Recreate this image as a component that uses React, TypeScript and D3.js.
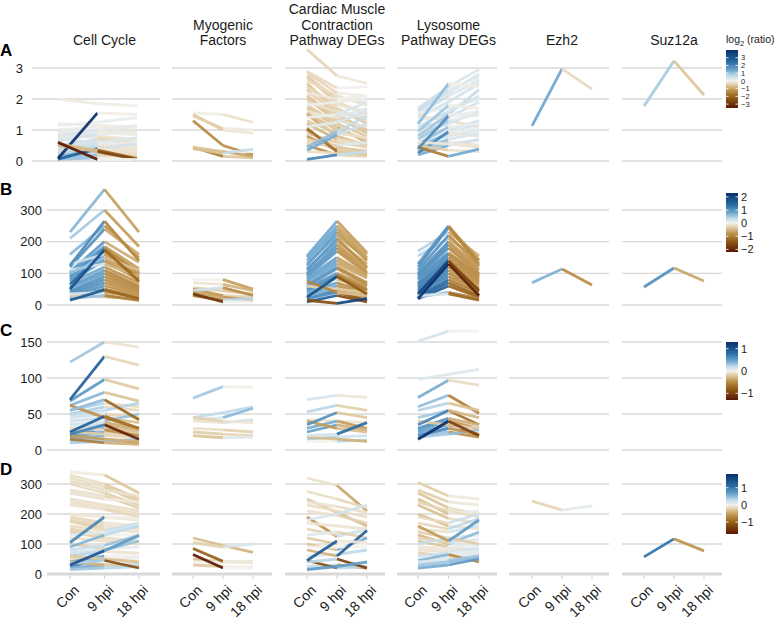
import React from 'react';
import * as d3 from 'd3';

// x categories and facet titles
const timepoints = ['Con', '9 hpi', '18 hpi'];
const facetTitles = [
  ['Cell Cycle'],
  ['Myogenic', 'Factors'],
  ['Cardiac Muscle', 'Contraction', 'Pathway DEGs'],
  ['Lysosome', 'Pathway DEGs'],
  ['Ezh2'],
  ['Suz12a'],
];

// ---- Row A (relative expression) : [Con, 9 hpi, 18 hpi]
const cellCycleA = [
  [2.0, 1.85, 1.78], [1.2, 1.15, 1.1], [1.15, 1.25, 1.4], [1.0, 1.1, 1.05], [0.95, 0.8, 0.7],
  [0.9, 1.0, 0.9], [0.85, 0.75, 0.6], [0.8, 1.0, 1.15], [0.75, 0.9, 0.85], [0.7, 0.6, 0.5],
  [0.65, 0.85, 0.95], [0.5, 0.7, 0.55], [0.45, 0.6, 0.75], [0.4, 0.55, 0.6], [0.35, 0.5, 0.45],
  [0.3, 0.45, 0.35], [0.3, 0.25, 0.2], [0.25, 0.4, 0.55], [0.2, 0.3, 0.25], [0.2, 0.15, 0.1],
  [0.15, 0.35, 0.3], [0.1, 0.2, 0.15], [0.05, 0.1, 0.1], [0.06, 0.4, 0.35], [0.08, 1.55, 1.5],
  [0.55, 0.35, 0.08], [0.5, 0.3, 0.05], [0.6, 0.05, 0.05],
];
const myogenicA = [
  [1.55, 1.5, 1.25], [1.5, 1.0, 0.9], [1.45, 1.05, 1.0], [1.3, 0.5, 0.2],
  [0.45, 0.15, 0.1], [0.4, 0.3, 0.3], [0.45, 0.3, 0.15], [0.4, 0.25, 0.38],
];
const cardiacA = [
  [3.6, 2.75, 2.5], [2.9, 2.35, 2.4], [2.85, 2.2, 2.1], [2.75, 2.0, 1.9], [2.7, 1.9, 1.5],
  [2.6, 2.1, 1.8], [2.5, 1.6, 1.3], [2.4, 1.8, 1.6], [2.3, 1.5, 1.0], [2.2, 1.7, 1.2],
  [2.1, 1.4, 0.9], [2.0, 1.3, 1.1], [1.9, 1.6, 1.4], [1.8, 1.2, 0.8], [1.7, 1.1, 0.6],
  [1.6, 1.4, 1.7], [1.55, 1.0, 0.7], [1.5, 0.8, 0.5], [1.4, 1.5, 1.9], [1.3, 0.9, 0.75],
  [1.2, 0.7, 0.55], [1.1, 1.25, 1.6], [1.0, 0.4, 0.35], [0.9, 0.6, 0.45], [0.8, 0.35, 0.25],
  [0.7, 0.5, 0.6], [0.6, 0.45, 0.3], [0.5, 0.2, 0.15], [0.3, 0.25, 0.2], [2.2, 2.0, 2.1],
  [1.8, 1.9, 2.0], [1.05, 0.3, 0.2], [0.35, 0.85, 1.2], [0.45, 0.95, 1.45], [0.05, 0.2, 0.3],
];
const lysosomeA = [
  [1.7, 2.4, 2.95], [1.65, 2.2, 2.8], [1.6, 2.3, 2.7], [1.5, 2.1, 2.6], [1.4, 1.9, 2.5],
  [1.3, 1.5, 2.3], [1.55, 1.7, 2.0], [1.45, 1.3, 1.1], [1.2, 2.5, 2.4], [1.1, 1.6, 2.1],
  [1.0, 1.4, 1.9], [0.95, 1.8, 1.7], [0.9, 1.2, 1.6], [0.85, 1.0, 1.3], [0.8, 1.5, 1.45],
  [0.75, 0.9, 1.2], [0.7, 1.3, 1.5], [0.65, 0.6, 0.5], [0.6, 0.8, 1.0], [0.55, 1.1, 1.2],
  [0.5, 0.55, 0.45], [0.45, 0.9, 0.8], [0.35, 0.7, 0.9], [0.3, 0.6, 0.65], [0.25, 0.95, 1.05],
  [0.2, 0.5, 0.7], [0.5, 0.35, 0.3], [0.6, 0.55, 0.5], [0.45, 0.15, 0.38], [0.4, 1.45, 1.6],
];
const ezh2A = [[1.13, 2.97, 2.32]];
const suz12aA = [[1.77, 3.23, 2.13]];

// ---- Row B
const cellCycleB = [
  [230, 365, 230], [210, 300, 185], [160, 250, 150], [120, 240, 160], [105, 200, 135],
  [100, 185, 115], [95, 175, 105], [90, 180, 100], [85, 160, 95], [80, 150, 90],
  [75, 140, 80], [70, 120, 70], [65, 170, 85], [60, 110, 60], [55, 100, 55],
  [45, 90, 50], [40, 80, 45], [35, 70, 40], [30, 60, 35], [25, 50, 30],
  [20, 45, 25], [30, 25, 20], [20, 30, 15], [35, 40, 25], [130, 160, 100],
  [110, 130, 90], [100, 150, 110], [125, 265, 140], [50, 175, 75], [15, 48, 20],
];
const myogenicB = [
  [80, 80, 50], [70, 65, 45], [55, 45, 35], [50, 30, 25],
  [45, 55, 30], [40, 25, 15], [30, 15, 20], [35, 10, 10],
];
const cardiacB = [
  [155, 265, 165], [150, 250, 160], [140, 240, 150], [130, 220, 145], [125, 230, 140],
  [115, 200, 130], [110, 210, 120], [100, 190, 115], [95, 180, 105], [90, 170, 100],
  [85, 150, 95], [80, 140, 90], [75, 130, 85], [70, 80, 60], [65, 120, 70],
  [60, 115, 65], [55, 100, 60], [50, 95, 50], [45, 90, 45], [40, 70, 40],
  [35, 60, 35], [30, 50, 30], [20, 45, 25], [20, 40, 15], [10, 30, 10],
  [60, 50, 40], [75, 40, 30], [15, 5, 20], [25, 90, 35],
];
const lysosomeB = [
  [170, 230, 155], [155, 210, 145], [130, 250, 140], [120, 245, 130], [110, 220, 125],
  [100, 200, 120], [95, 190, 110], [90, 180, 100], [85, 165, 95], [80, 160, 90],
  [70, 150, 85], [65, 140, 80], [60, 130, 75], [55, 120, 70], [50, 110, 65],
  [45, 100, 55], [40, 90, 50], [30, 80, 40], [25, 70, 30], [20, 60, 25],
  [25, 40, 20], [30, 35, 15], [35, 140, 45], [20, 130, 30],
];
const ezh2B = [[70, 114, 63]];
const suz12aB = [[57, 117, 76]];

// ---- Row C
const cellCycleC = [
  [122, 150, 143], [68, 98, 85], [62, 80, 68], [55, 65, 60], [50, 60, 55],
  [48, 55, 65], [45, 50, 45], [40, 45, 38], [38, 40, 50], [35, 38, 30],
  [30, 35, 28], [20, 30, 25], [18, 25, 22], [15, 20, 18], [12, 15, 10],
  [10, 12, 15], [15, 10, 8], [20, 15, 12], [25, 22, 20], [30, 28, 20],
  [62, 45, 30], [55, 70, 42], [25, 47, 30], [22, 35, 15], [70, 130, 118],
];
const myogenicC = [
  [72, 88, 87], [45, 52, 60], [42, 45, 58], [40, 38, 42],
  [30, 28, 25], [25, 22, 20], [20, 17, 18], [45, 40, 38],
];
const cardiacC = [
  [70, 76, 73], [53, 62, 55], [42, 40, 38], [30, 40, 30], [25, 35, 28],
  [15, 18, 20], [12, 12, 14], [40, 30, 25], [35, 52, 45], [18, 15, 12], [20, 22, 38],
];
const lysosomeC = [
  [151, 165, 165], [98, 105, 112], [73, 97, 90], [60, 76, 51], [55, 65, 55],
  [45, 55, 35], [30, 44, 35], [28, 40, 30], [25, 35, 20], [22, 30, 32],
  [20, 25, 18], [18, 22, 28], [40, 35, 30], [20, 30, 22], [15, 40, 20], [35, 55, 45],
];
const ezh2C: number[][] = [];
const suz12aC: number[][] = [];

// ---- Row D
const cellCycleD = [
  [340, 330, 270], [330, 300, 250], [320, 290, 240], [310, 280, 260], [300, 270, 230],
  [280, 260, 220], [270, 250, 240], [250, 230, 210], [240, 220, 200], [230, 215, 190],
  [200, 190, 180], [190, 170, 160], [180, 160, 150], [175, 150, 140], [160, 145, 170],
  [150, 130, 130], [140, 120, 110], [130, 140, 160], [120, 110, 100], [100, 85, 90],
  [90, 130, 160], [80, 95, 130], [70, 80, 110], [60, 75, 70], [50, 45, 55],
  [40, 60, 60], [25, 50, 50], [20, 30, 35], [40, 30, 25], [60, 50, 40],
  [15, 20, 25], [105, 190, 185], [35, 45, 20], [30, 78, 128],
];
const myogenicD = [
  [120, 95, 72], [105, 90, 100], [50, 40, 38], [40, 40, 42],
  [30, 25, 25], [85, 42, 40], [65, 20, 20],
];
const cardiacD = [
  [320, 295, 210], [275, 250, 220], [250, 205, 160], [240, 225, 205], [230, 210, 190],
  [210, 195, 170], [190, 125, 150], [180, 200, 230], [170, 160, 150], [150, 130, 145],
  [130, 140, 120], [120, 100, 100], [100, 80, 120], [90, 90, 90], [60, 65, 80],
  [25, 30, 20], [80, 60, 145], [45, 20, 25], [40, 50, 20], [15, 25, 40], [45, 110, 105],
];
const lysosomeD = [
  [305, 260, 250], [280, 240, 230], [270, 220, 200], [250, 200, 210], [240, 210, 190],
  [230, 185, 170], [200, 160, 150], [190, 170, 200], [170, 150, 185], [150, 140, 160],
  [140, 120, 130], [130, 100, 140], [120, 105, 115], [110, 90, 95], [100, 120, 100],
  [90, 85, 80], [80, 75, 85], [70, 60, 65], [60, 70, 75], [50, 55, 50],
  [45, 65, 40], [40, 45, 60], [30, 40, 55], [160, 110, 180], [20, 30, 50],
];
const ezh2D = [[243, 213, 227]];
const suz12aD = [[57, 117, 77]];

// y ticks and colour-bar limits per row
const yTicksA = [0, 1, 2, 3];
const yTicksB = [0, 100, 200, 300];
const yTicksC = [0, 50, 100, 150];
const yTicksD = [0, 100, 200, 300];
const colorLimitsA = [-3.5, 4];
const colorLimitsB = [-2.2, 2.3];
const colorLimitsC = [-1.3, 1.3];
const colorLimitsD = [-1.7, 1.8];
const legendTicksA = [3, 2, 1, 0, -1, -2, -3];
const legendTicksB = [2, 1, 0, -1, -2];
const legendTicksC = [1, 0, -1];
const legendTicksD = [1, 0, -1];

// brown -> white -> blue, stretched so moderate ratios are already saturated
const paletteStops = [0, 0.2, 0.33, 0.42, 0.5, 0.58, 0.67, 0.8, 1];
const paletteColors = ['#5a1804', '#955f17', '#c09550', '#dfc9a0', '#f3f1ec',
  '#c2dbea', '#6fa7cf', '#2a6ea6', '#0a2f6b'];
const paletteScale = d3.scaleLinear<string>().domain(paletteStops).range(paletteColors)
  .interpolate(d3.interpolateRgb).clamp(true);

const FONT = '"Liberation Sans", Arial, Helvetica, sans-serif';

// panel layout: gridline extent and Con/18 hpi x positions
const panelX = [
  { l: 47, r: 160, a: 70, b: 139 },
  { l: 172, r: 272, a: 193, b: 253 },
  { l: 285, r: 385, a: 307, b: 367 },
  { l: 397, r: 497, a: 418, b: 479 },
  { l: 509, r: 609, a: 532, b: 592 },
  { l: 622, r: 722, a: 644, b: 704 },
];
const panelXRowA0 = { l: 32, r: 160, a: 58, b: 137 };

const rows = [
  { letter: 'A', letterY: 56, panels: [cellCycleA, myogenicA, cardiacA, lysosomeA, ezh2A, suz12aA],
    yTicks: yTicksA, yPix: [161, 68], labelRight: 23, limits: colorLimitsA, legendTicks: legendTicksA,
    bar: [50, 108], legendFont: 7.5 },
  { letter: 'B', letterY: 195, panels: [cellCycleB, myogenicB, cardiacB, lysosomeB, ezh2B, suz12aB],
    yTicks: yTicksB, yPix: [305, 210], labelRight: 42, limits: colorLimitsB, legendTicks: legendTicksB,
    bar: [193, 252], legendFont: 11 },
  { letter: 'C', letterY: 336, panels: [cellCycleC, myogenicC, cardiacC, lysosomeC, ezh2C, suz12aC],
    yTicks: yTicksC, yPix: [450, 342], labelRight: 42, limits: colorLimitsC, legendTicks: legendTicksC,
    bar: [342, 400], legendFont: 11 },
  { letter: 'D', letterY: 475, panels: [cellCycleD, myogenicD, cardiacD, lysosomeD, ezh2D, suz12aD],
    yTicks: yTicksD, yPix: [574, 484], labelRight: 42, limits: colorLimitsD, legendTicks: legendTicksD,
    bar: [474, 534], legendFont: 11 },
];

const Row = ({ row, ri }: any) => {
  const y = d3.scaleLinear().domain([row.yTicks[0], row.yTicks[row.yTicks.length - 1]]).range(row.yPix);
  const color = d3.scaleDiverging((t: number) => paletteScale(t))
    .domain([row.limits[0], 0, row.limits[1]]).clamp(true);
  const isLast = ri === rows.length - 1;
  const barY = d3.scaleLinear().domain([row.limits[1], row.limits[0]]).range(row.bar);
  const gradId = `grad${ri}`;
  const stops = d3.range(0, 31).map((i) => {
    const v = row.limits[1] - (i / 30) * (row.limits[1] - row.limits[0]);
    return { off: i / 30, c: color(v) };
  });
  return (
    <g>
      <text x={0} y={row.letterY} fontSize={17} fontWeight="bold" fontFamily={FONT}>{row.letter}</text>
      {row.panels.map((data: number[][], pi: number) => {
        const p = ri === 0 && pi === 0 ? panelXRowA0 : panelX[pi];
        const x = d3.scalePoint().domain(timepoints).range([p.a, p.b]);
        return (
          <g key={pi}>
            {row.yTicks.map((t: number) => (
              <line key={t} x1={p.l} x2={p.r} y1={y(t)} y2={y(t)} stroke="#d8d8d8"
                strokeWidth={isLast && t === 0 ? 3 : 1.4} />
            ))}
            {isLast && timepoints.map((tp) => (
              <g key={tp}>
                <line x1={x(tp)} x2={x(tp)} y1={y(0) + 1.5} y2={y(0) + 5} stroke="#cfcfcf" strokeWidth={1} />
                <text transform={`translate(${(x(tp) as number) + 10},${y(0) + 17}) rotate(-45)`}
                  textAnchor="end" fontSize={14} fontFamily={FONT} fill="#1a1a1a">{tp}</text>
              </g>
            ))}
            {data.map((d, gi) => (
              <g key={gi}>
                {[0, 1].map((s) => (
                  <line key={s} x1={x(timepoints[s])} x2={x(timepoints[s + 1])}
                    y1={y(d[s])} y2={y(d[s + 1])}
                    stroke={color(Math.log2(d[s + 1] / d[s]))} strokeWidth={2.8} strokeOpacity={0.92} />
                ))}
              </g>
            ))}
          </g>
        );
      })}
      {row.yTicks.map((t: number) => (
        <text key={t} x={row.labelRight} y={y(t) + 4.5} textAnchor="end" fontSize={13}
          fontFamily={FONT} fill="#1a1a1a">{t}</text>
      ))}
      <defs>
        <linearGradient id={gradId} x1="0" y1="0" x2="0" y2="1">
          {stops.map((s, i) => <stop key={i} offset={s.off} stopColor={s.c} />)}
        </linearGradient>
      </defs>
      <rect x={726} y={row.bar[0]} width={12} height={row.bar[1] - row.bar[0]} fill={`url(#${gradId})`} />
      {row.legendTicks.map((t: number) => (
        <g key={t}>
          <line x1={726} x2={728.5} y1={barY(t)} y2={barY(t)} stroke="#fff" strokeWidth={0.8} />
          <line x1={735.5} x2={738} y1={barY(t)} y2={barY(t)} stroke="#fff" strokeWidth={0.8} />
          <text x={741} y={barY(t) + row.legendFont * 0.36} fontSize={row.legendFont}
            fontFamily={FONT} fill="#1a1a1a">{t < 0 ? `\u2212${-t}` : t}</text>
        </g>
      ))}
    </g>
  );
};

const App = () => {
  const xTitle = d3.scalePoint().domain(timepoints);
  return (
    <svg width={780} height={619} style={{ position: 'absolute', left: 0, top: 0, background: '#fff' }}>
      {facetTitles.map((lines, pi) => {
        const p = panelX[pi];
        const cx = xTitle.range([p.a, p.b])('9 hpi') as number;
        return (
          <text key={pi} x={cx} textAnchor="middle" fontSize={14} fontFamily={FONT} fill="#1a1a1a">
            {lines.map((ln, li) => (
              <tspan key={li} x={cx} y={45 - (lines.length - 1 - li) * 15.5}>{ln}</tspan>
            ))}
          </text>
        );
      })}
      <text x={726} y={43} fontSize={10.5} fontFamily={FONT} fill="#1a1a1a">
        log<tspan fontSize={7.5} dy={3}>2</tspan><tspan dy={-3}> (ratio)</tspan>
      </text>
      {rows.map((row, ri) => <Row key={ri} row={row} ri={ri} />)}
    </svg>
  );
};

export default App;
